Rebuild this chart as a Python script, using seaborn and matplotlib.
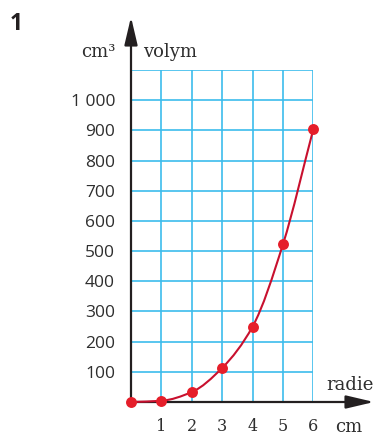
import numpy as np
import matplotlib
matplotlib.use("Agg")
import matplotlib.pyplot as plt
from matplotlib.path import Path
from matplotlib.patches import PathPatch
import seaborn as sns
import pandas as pd

# Sphere volume against radius
radius = [0, 1, 2, 3, 4, 5, 6]
volume = [0, 4, 33, 113, 250, 523, 905]
x_ticks = [1, 2, 3, 4, 5, 6]
y_ticks = [100, 200, 300, 400, 500, 600, 700, 800, 900, 1000]
y_labels = ["100", "200", "300", "400", "500", "600", "700", "800", "900", "1 000"]

sns.set_style("white")
plt.rcParams["font.family"] = ["Open Sans", "DejaVu Sans"]

W, H = 374, 440
fig = plt.figure(figsize=(W / 100, H / 100), dpi=100)

GRID = "#3cbcec"
INK = "#231f20"
TEXT = "#2e2e2e"
CURVE = "#c8102e"
DOT = "#e51e2a"

x0_px, x6_px = 131, 313.4
y0_px, ytop_px = 402, 70
ax = fig.add_axes([x0_px / W, (H - y0_px) / H, (x6_px - x0_px) / W, (y0_px - ytop_px) / H])
ax.set_xlim(0, 6)
ax.set_ylim(0, 1100)
for s in ax.spines.values():
    s.set_visible(False)

ppu_x = (x6_px - x0_px) / 6
ppu_y = (y0_px - ytop_px) / 1100

# grid lines with short outward ticks
ax.set_xticks(x_ticks)
ax.set_xticklabels([str(v) for v in x_ticks], family="DejaVu Serif", fontsize=11.5, color=TEXT)
ax.set_yticks(y_ticks)
ax.set_yticklabels(y_labels, fontsize=12.5, color=TEXT)
ax.tick_params(axis="x", length=6.5, width=1.2, color=GRID, pad=5, direction="out")
ax.tick_params(axis="y", length=5, width=1.2, color=GRID, pad=6.5, direction="out")
ax.grid(True, color=GRID, lw=1.2)
ax.axhline(1100, color=GRID, lw=1.2)

# axes arrows
y_tip = (y0_px - 17) / ppu_y
x_tip = (374 - x0_px) / ppu_x
arrow = dict(arrowstyle="-|>,head_length=1.7,head_width=0.4", lw=1.6, color=INK,
             mutation_scale=10, shrinkA=0, shrinkB=0)
ax.annotate("", xy=(0, y_tip), xytext=(0, 0), arrowprops=arrow, annotation_clip=False)
ax.annotate("", xy=(x_tip, 0), xytext=(0, 0), arrowprops=arrow, annotation_clip=False)

# smooth curve through the points (monotone cubic tangents)
xs = np.array(radius, float)
ys = np.array(volume, float)
d = np.diff(ys) / np.diff(xs)
m = np.zeros_like(ys)
m[0], m[-1] = d[0], d[-1]
for i in range(1, len(xs) - 1):
    m[i] = 0 if d[i - 1] * d[i] <= 0 else 2 / (1 / d[i - 1] + 1 / d[i])
verts = [(xs[0], ys[0])]
codes = [Path.MOVETO]
for i in range(len(xs) - 1):
    h = xs[i + 1] - xs[i]
    verts += [(xs[i] + h / 3, ys[i] + m[i] * h / 3),
              (xs[i + 1] - h / 3, ys[i + 1] - m[i + 1] * h / 3),
              (xs[i + 1], ys[i + 1])]
    codes += [Path.CURVE4] * 3
ax.add_patch(PathPatch(Path(verts, codes), fill=False, ec=CURVE, lw=1.5, zorder=4, clip_on=False))

df = pd.DataFrame({"radie": radius, "volym": volume})
sns.scatterplot(data=df, x="radie", y="volym", ax=ax, color=DOT, s=62, linewidth=0,
                zorder=5, clip_on=False)
ax.set_xlabel("")
ax.set_ylabel("")

def ftext(px, py, s, **kw):
    fig.text(px / W, 1 - py / H, s, **kw)

ftext(10, 30, "1", fontsize=16.5, fontweight="bold", color=INK, va="baseline")
ftext(115, 57, "cm³", family="DejaVu Serif", fontsize=13, color=TEXT, ha="right", va="baseline")
ftext(143, 57, "volym", family="DejaVu Serif", fontsize=13, color=TEXT, va="baseline")
ftext(374, 390, "radie", family="DejaVu Serif", fontsize=13, color=TEXT, ha="right", va="baseline")
ftext(335, 432, "cm", family="DejaVu Serif", fontsize=13, color=TEXT, va="baseline")

fig.savefig("out.png", dpi=100)
